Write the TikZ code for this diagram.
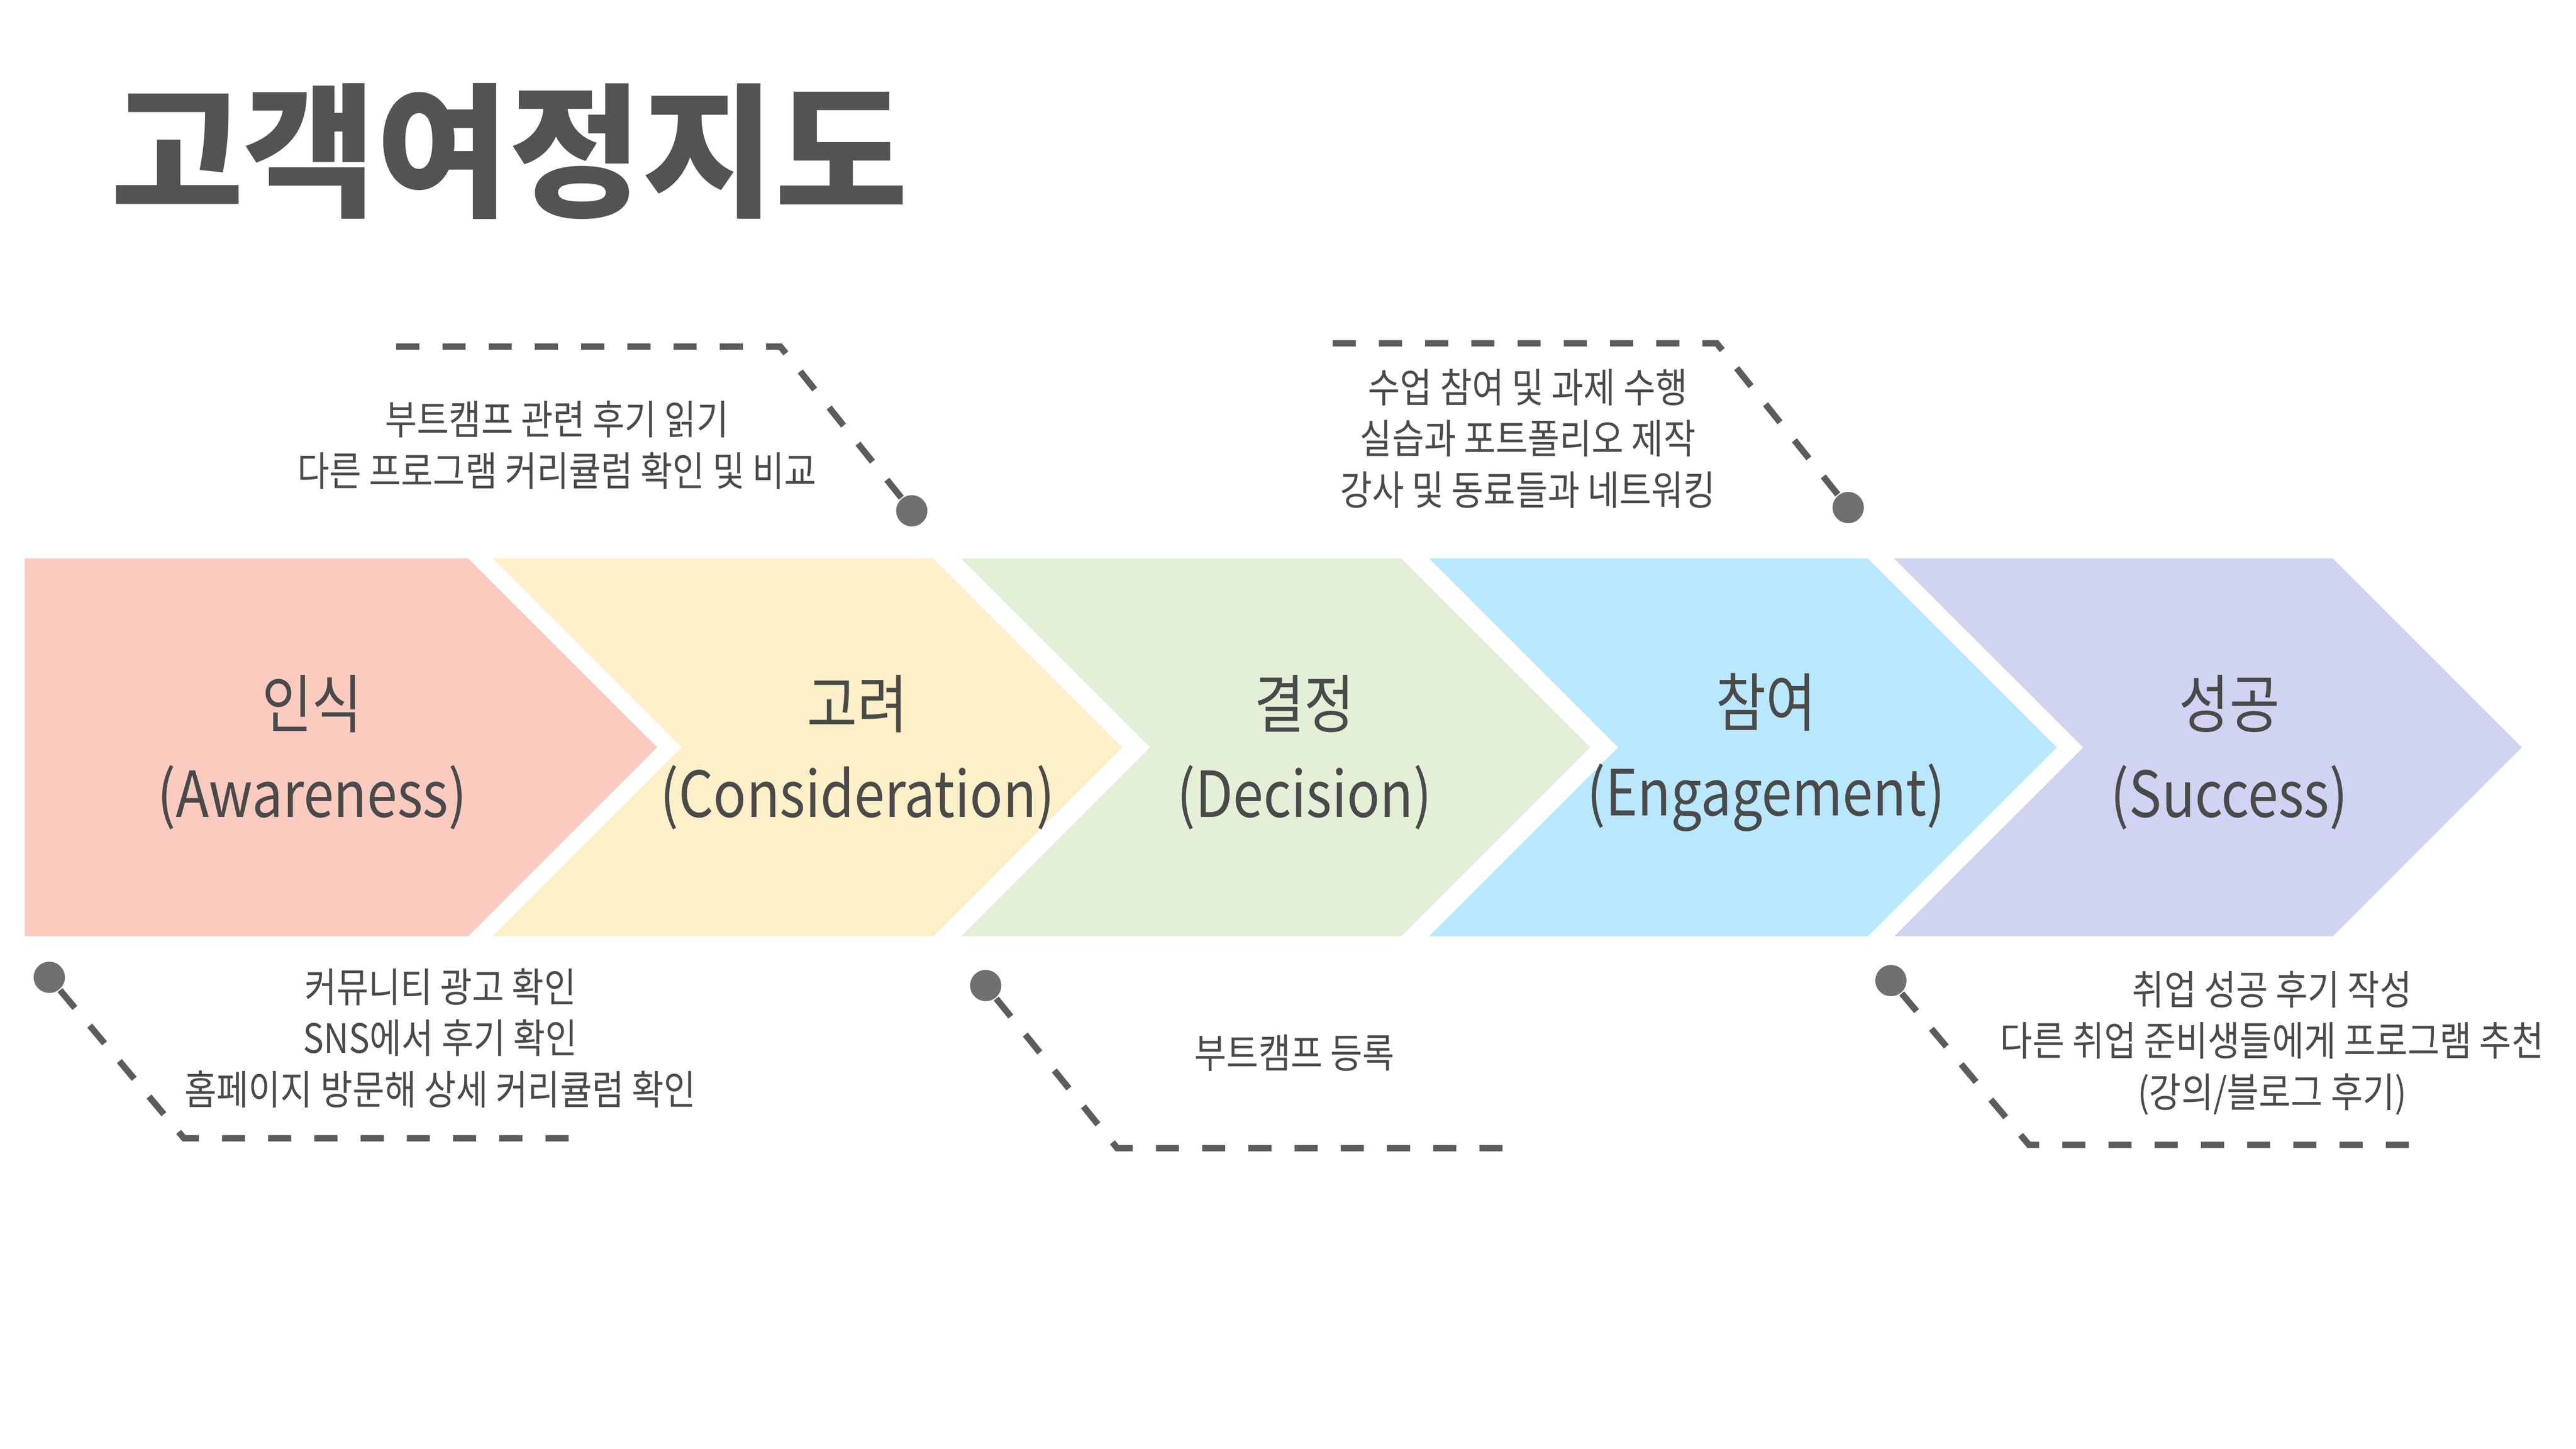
\documentclass[tikz,border=0pt]{standalone}
\usepackage{fontspec}
\setmainfont{Noto Sans CJK KR}
\newfontfamily\krnarrow[FakeStretch=0.86]{Noto Sans CJK KR}
\usetikzlibrary{positioning}
\definecolor{txtgray}{HTML}{4A4A4A}
\definecolor{linegray}{HTML}{5C5C5C}
\definecolor{dotgray}{HTML}{707070}
\definecolor{cpink}{HTML}{FBCBC0}
\definecolor{cyellow}{HTML}{FDEFC8}
\definecolor{cgreen}{HTML}{E3EFD6}
\definecolor{cblue}{HTML}{B9E7FD}
\definecolor{cpurple}{HTML}{D0D3F1}
\begin{document}
\begin{tikzpicture}[x=0.01cm, y=-0.01cm, text=txtgray,
	stagetext/.style={align=center, font=\krnarrow\fontsize{11}{15.5}\selectfont},
	notetext/.style={align=center, font=\krnarrow\fontsize{7}{8.9}\selectfont},
	dashline/.style={draw=linegray, line width=1.1pt, dash pattern=on 4pt off 4pt},
	dot/.style={circle, fill=dotgray, minimum size=0.19cm, inner sep=0pt}]
	\useasboundingbox (0,0) rectangle (1568,882);
	%title
	\node[anchor=west, font=\fontsize{25}{25}\selectfont\bfseries, text=txtgray!95] (title) at (55,92) {고객여정지도};
	%chevrons
	\fill[cpink] (15,340) -- (285,340) -- (400,455) -- (285,570) -- (15,570) -- cycle;
	\fill[cyellow] (300,340) -- (568,340) -- (683,455) -- (568,570) -- (300,570) -- (415,455) -- cycle;
	\fill[cgreen] (585,340) -- (853,340) -- (968,455) -- (853,570) -- (585,570) -- (700,455) -- cycle;
	\fill[cblue] (870,340) -- (1137,340) -- (1252,455) -- (1137,570) -- (870,570) -- (985,455) -- cycle;
	\fill[cpurple] (1153,340) -- (1420,340) -- (1535,455) -- (1420,570) -- (1153,570) -- (1268,455) -- cycle;
	%stage labels
	\node[stagetext] (s1) at (190,458) {인식\\(Awareness)};
	\node[stagetext] (s2) at (522,458) {고려\\(Consideration)};
	\node[stagetext] (s3) at (794,458) {결정\\(Decision)};
	\node[stagetext] (s4) at (1075,458) {참여\\(Engagement)};
	\node[stagetext] (s5) at (1357,458) {성공\\(Success)};
	%notes
	\node[notetext] (n1) at (268,632) {커뮤니티 광고 확인\\SNS에서 후기 확인\\홈페이지 방문해 상세 커리큘럼 확인};
	\node[notetext] (n2) at (339,271) {부트캠프 관련 후기 읽기\\다른 프로그램 커리큘럼 확인 및 비교};
	\node[notetext] (n3) at (788,641) {부트캠프 등록};
	\node[notetext] (n4) at (930,267) {수업 참여 및 과제 수행\\실습과 포트폴리오 제작\\강사 및 동료들과 네트워킹};
	\node[notetext] (n5) at (1383,635) {취업 성공 후기 작성\\다른 취업 준비생들에게 프로그램 추천\\(강의/블로그 후기)};
	%connectors
	\node[dot] (d1) at (30,595) {};
	\node[dot] (d2) at (555,311) {};
	\node[dot] (d3) at (600,600) {};
	\node[dot] (d4) at (1125,309) {};
	\node[dot] (d5) at (1151,597) {};
	\coordinate (k1) at (112,693); \coordinate (e1) at (350,693);
	\coordinate (k2) at (475,211); \coordinate (e2) at (235,211);
	\coordinate (k3) at (680,699); \coordinate (e3) at (920,699);
	\coordinate (k4) at (1045,209); \coordinate (e4) at (805,209);
	\coordinate (k5) at (1235,697); \coordinate (e5) at (1472,697);
	\foreach \i in {1,...,5}
	\draw[dashline] (d\i) -- (k\i) -- (e\i);
\end{tikzpicture}
\end{document}
